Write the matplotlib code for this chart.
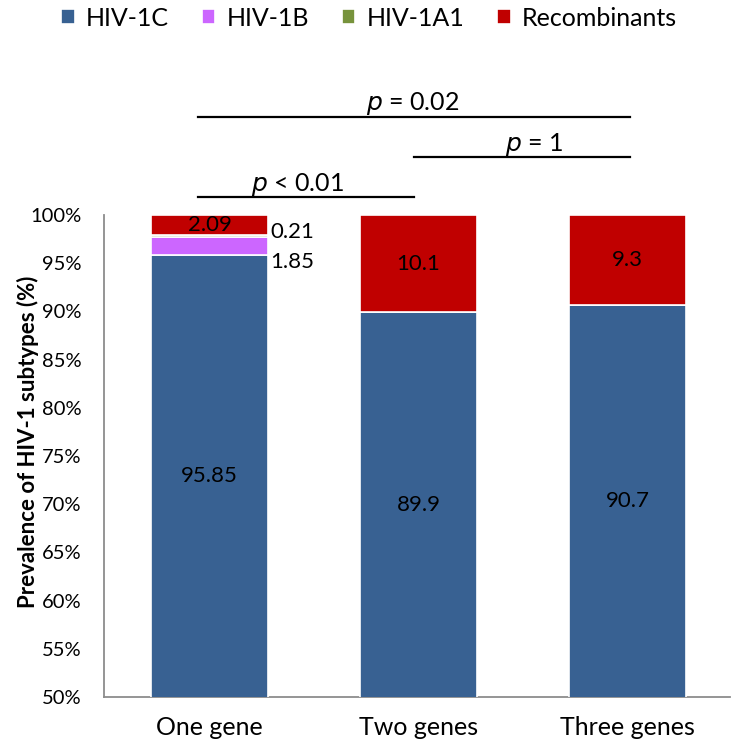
import matplotlib
matplotlib.use("Agg")
import matplotlib.pyplot as plt
import numpy as np

plt.rcParams['font.family'] = ['Lato', 'DejaVu Sans']

categories = ["One gene", "Two genes", "Three genes"]
series_names = ["HIV-1C", "HIV-1B", "HIV-1A1", "Recombinants"]
hiv1c = [95.85, 89.9, 90.7]
hiv1b = [1.85, 0.0, 0.0]
hiv1a1 = [0.21, 0.0, 0.0]
recomb = [2.09, 10.1, 9.3]
colors = ["#386192", "#CC66FF", "#77933C", "#C00000"]
yticks = [50, 55, 60, 65, 70, 75, 80, 85, 90, 95, 100]
pvals = ["p = 0.02", "p = 1", "p < 0.01"]
pairs = [(0, 2), (1, 2), (0, 1)]

fig = plt.figure(figsize=(7.38, 7.54), dpi=100)
ax = fig.add_axes([104 / 738, 1 - 697 / 754, 626 / 738, 482 / 754])

x = np.arange(len(categories))
series = [hiv1c, hiv1b, hiv1a1, recomb]
bottom = np.zeros(len(categories))
handles = []
for vals, col, name in zip(series, colors, series_names):
    v = np.array(vals)
    b = ax.bar(x, v, bottom=bottom, width=0.56, color=col, edgecolor="white",
               linewidth=1.2, label=name, zorder=3)
    handles.append(b)
    bottom = bottom + v

ax.set_ylim(50, 100)
ax.set_xlim(-0.505, 2.49)
ax.set_yticks(yticks)
ax.set_yticklabels([f"{t}%" for t in yticks], fontsize=14.5)
ax.set_xticks(x)
ax.set_xticklabels(categories, fontsize=18)
ax.tick_params(axis='y', length=0, pad=16)
ax.tick_params(axis='x', length=0, pad=14)
for s in ["top", "right"]:
    ax.spines[s].set_visible(False)
for s in ["left", "bottom"]:
    ax.spines[s].set_color("#8c8c8c")
    ax.spines[s].set_linewidth(1.3)
ax.set_ylabel("Prevalence of HIV-1 subtypes (%)", fontsize=16, fontweight='bold')
ax.yaxis.set_label_coords(-0.104, 0.529)

# value labels
for i in range(len(categories)):
    c = hiv1c[i]
    ax.text(x[i], (50 + c) / 2, f"{c:g}", ha='center', va='center', fontsize=16, zorder=5)
    r = recomb[i]
    ax.text(x[i], 100 - r / 2, f"{r:g}", ha='center', va='center', fontsize=16, zorder=5)
# side labels for small segments of first bar
ax.text(x[0] + 0.29, 98.2, f"{hiv1a1[0]:g}", ha='left', va='center', fontsize=16)
ax.text(x[0] + 0.29, 95.1, f"{hiv1b[0]:g}", ha='left', va='center', fontsize=16)

# significance lines
line_y = [110.2, 106.0, 101.9]
text_y = [111.6, 107.3, 103.2]
text_x = [0.97, 1.55, 0.42]
for lab, (a, b_), ly, ty, tx in zip(pvals, pairs, line_y, text_y, text_x):
    xa = a - 0.055 if a == 0 else a - 0.02
    xb = b_ + 0.01 if b_ == 2 else b_ - 0.02
    ax.plot([xa, xb], [ly, ly], color="black", linewidth=1.6, clip_on=False)
    rest = lab.split(" ", 1)[1]
    ax.text(tx, ty, r"$\it{p}$ " + rest, ha='center', va='center', fontsize=18, clip_on=False)

fig.legend(handles=handles, labels=series_names, loc='center', bbox_to_anchor=(0.5, 1 - 18 / 754),
           ncol=4, frameon=False, fontsize=18, handlelength=0.55, handleheight=0.55,
           handletextpad=0.45, columnspacing=1.3, borderpad=0, borderaxespad=0)

fig.savefig("out.png", dpi=100)
